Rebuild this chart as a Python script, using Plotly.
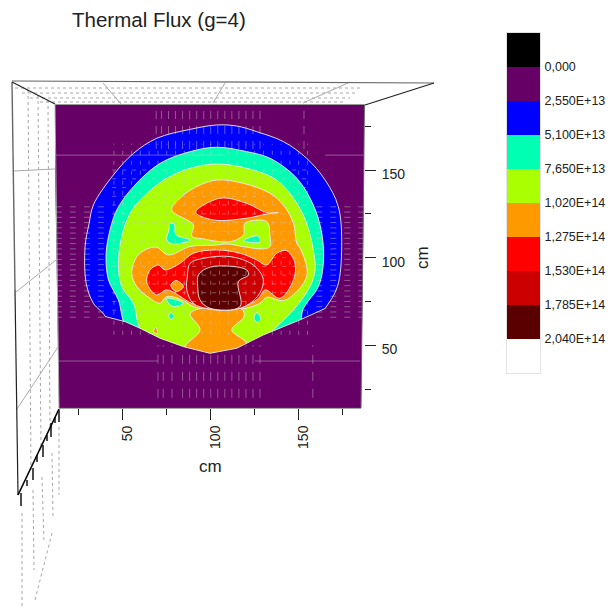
import plotly.graph_objects as go

W, H = 611, 608

title_text = "Thermal Flux (g=4)"
axis_unit = "cm"
level_labels = ["0,000", "2,550E+13", "5,100E+13", "7,650E+13", "1,020E+14",
                "1,275E+14", "1,530E+14", "1,785E+14", "2,040E+14"]
level_values = [0, 2.55, 5.1, 7.65, 10.2, 12.75, 15.3, 17.85, 20.4]  # in 1E+13
band_colors = ["#000000", "#660066", "#0000FF", "#00FFB2", "#AAFF00",
               "#FF9900", "#FF0000", "#CC0000", "#5A0000", "#FFFFFF"]
band_centers = [-1.275, 1.275, 3.825, 6.375, 8.925, 11.475, 14.025, 16.575, 19.125, 21.675]

# iso-flux outlines, in cm
iso_2550_x = [103.4, 114.8, 126.1, 141.3, 154.5, 165.0, 172.5, 174.4, 172.0, 165.0, 152.7, 99.6, 40.0, 40.0, 33.3, 29.2, 28.6, 30.9, 33.3, 44.7, 56.1, 69.3, 88.3]
iso_2550_y = [175.7, 175.1, 171.9, 166.2, 156.7, 144.3, 129.1, 106.3, 83.5, 71.0, 55.0, 37.8, 58.7, 66.4, 74.0, 85.4, 106.3, 119.6, 130.0, 147.2, 159.5, 168.1, 173.2]
iso_5100_x = [103.4, 120.4, 133.7, 148.9, 158.3, 163.1, 164.0, 161.2, 152.7, 148.9, 99.6, 53.2, 47.5, 41.9, 40.5, 41.9, 46.6, 56.1, 71.2, 88.3]
iso_5100_y = [163.0, 160.5, 156.7, 145.3, 130.0, 113.9, 96.8, 83.5, 71.1, 58.7, 37.8, 58.7, 75.9, 87.3, 100.6, 112.0, 127.2, 140.5, 153.8, 160.5]
iso_7650_x = [103.4, 120.4, 137.5, 148.9, 154.5, 158.3, 159.3, 156.4, 147.0, 134.7, 122.4, 84.5, 60.8, 56.1, 49.4, 47.5, 49.4, 54.2, 61.7, 75.0, 88.3]
iso_7650_y = [153.4, 151.0, 144.3, 131.0, 119.6, 104.4, 93.0, 83.5, 70.2, 57.8, 43.5, 43.5, 57.8, 74.0, 83.5, 96.8, 112.0, 125.3, 134.8, 145.3, 151.0]
iso_10200_x = [77.8, 83.5, 92.0, 103.4, 118.6, 133.7, 141.3, 147.0, 148.9, 151.1, 154.5, 154.5, 149.8, 141.3, 131.8, 128.0, 116.7, 99.6, 90.1, 84.5, 75.0, 71.2, 65.5, 58.0, 55.1, 58.0, 63.6, 69.3, 75.9, 88.3, 103.4, 109.1, 118.6, 129.0, 133.7, 133.7, 131.8, 119.5, 118.6, 111.0, 95.8, 89.2, 90.1]
iso_10200_y = [127.2, 134.8, 140.5, 144.3, 142.4, 136.7, 130.0, 119.6, 108.2, 104.8, 94.9, 89.2, 81.6, 75.5, 77.4, 74.0, 70.5, 70.2, 72.1, 75.5, 77.8, 74.0, 76.8, 83.5, 91.1, 100.6, 104.8, 105.9, 101.5, 106.3, 107.2, 107.8, 106.3, 105.0, 106.3, 112.0, 120.6, 119.6, 113.0, 109.1, 110.7, 112.4, 118.7]
iso_10200b_x = [88.3, 93.0, 117.6, 118.9, 111.9, 120.4, 122.4, 84.5, 85.4, 93.9]
iso_10200b_y = [67.9, 70.7, 70.7, 66.3, 58.8, 51.2, 39.7, 39.7, 49.2, 58.8]
iso_12750_x = [91.5, 105.3, 120.4, 131.8, 138.4, 131.8, 120.4, 101.5]
iso_12750_y = [125.9, 133.9, 131.0, 125.7, 125.7, 124.9, 122.5, 121.5]
iso_12750b_x = [63.6, 65.5, 70.3, 74.0, 82.6, 90.1, 103.4, 116.7, 126.1, 131.8, 137.5, 143.2, 147.9, 147.0, 139.4, 130.9, 127.1, 116.7, 99.6, 89.2, 75.0, 69.3, 64.6]
iso_12750b_y = [87.3, 93.0, 95.8, 93.0, 96.8, 102.5, 104.4, 102.5, 98.7, 95.8, 102.5, 104.0, 96.8, 87.3, 76.8, 81.6, 76.8, 71.1, 70.5, 73.9, 81.6, 78.7, 83.5]
iso_15300_x = [86.7, 88.3, 95.8, 111.0, 124.2, 129.9, 126.5, 116.7, 99.6, 90.1, 86.4]
iso_15300_y = [89.2, 96.8, 99.6, 100.6, 95.8, 87.3, 77.8, 71.1, 70.7, 73.9, 81.6]
iso_17850_x = [92.6, 93.0, 97.7, 107.2, 120.4, 121.4, 115.7, 116.7, 99.6, 93.9]
iso_17850_y = [83.5, 90.1, 93.9, 95.3, 93.0, 90.1, 86.3, 72.1, 71.1, 75.9]

# small low pockets inside the 7,650E+13 band
pocket_a_x = [76.9, 79.2, 80.3, 88.3, 78.8, 75.0, 76.3]
pocket_a_y = [119.6, 119.2, 113.0, 110.1, 107.8, 110.1, 115.8]
pocket_b_x = [118.6, 127.1, 127.6]
pocket_b_y = [109.7, 112.4, 108.8]
pocket_c_x = [75.0, 84.5, 79.2, 76.0]
pocket_c_y = [76.8, 74.0, 72.0, 74.0]
pocket_d_x = [77.3, 79.2, 77.3, 76.1]
pocket_d_y = [68.6, 66.3, 64.8, 66.7]
pocket_e_x = [123.3, 128.4, 125.2]
pocket_e_y = [74.0, 76.3, 73.6]
pocket_f_x = [126.1, 128.4, 126.5, 124.6]
pocket_f_y = [68.6, 65.4, 63.1, 65.4]
notch_x = [77.3, 80.3, 84.5, 80.3]
notch_y = [84.4, 86.9, 83.5, 80.6]
speck_x = [67.4, 68.9, 69.7]
speck_y = [57.8, 60.3, 56.5]

# lower edge of the mesh, in cm
edge_x = [40.0, 51.3, 59.8, 71.2, 84.5, 99.6, 114.8, 129.9, 141.3, 150.8, 165.0]
edge_y = [66.4, 63.5, 59.7, 54.0, 49.2, 45.4, 48.3, 55.9, 60.6, 64.5, 71.0]

# projected mesh traces seen through the surface, in cm
side_hatch_y = [66, 69, 72, 75, 78, 81, 84, 87, 90, 93, 96, 99, 102, 105, 108, 111, 114, 117, 120, 123, 126, 129]
top_hatch_x = [69, 72, 76, 80, 84, 88, 92, 96, 100, 104, 108, 112, 116, 120, 124, 128, 153]
bottom_hatch_x = [70, 73, 78, 84, 88, 92, 96, 100, 104, 108, 112, 116, 120, 124, 128, 158]
inner_mesh_x = [45, 50, 55, 60, 65, 70, 75, 80, 85, 90, 95, 100, 105, 110, 115, 120, 125, 130, 135, 140, 145, 150, 155]
inner_mesh_y = [70, 75, 80, 85, 90, 95, 100, 105, 110, 115, 120, 125, 130, 135, 140, 145, 150]
long_lines_y = [[158.5, 12, 108], [158.5, 165, 187], [41, 13, 70], [41, 125, 185]]

x_range = [11.5, 187.1]
y_range = [14.2, 187.1]
PURPLE = band_colors[1]
LIGHT = "rgba(240,238,240,0.9)"
MESH = "rgba(205,195,205,0.45)"


def segs_v(xs, y0, y1):
    X, Y = [], []
    for x in xs:
        X += [x, x, None]
        Y += [y0, y1, None]
    return X, Y


def segs_h(ys, x0, x1):
    X, Y = [], []
    for y in ys:
        X += [x0, x1, None]
        Y += [y, y, None]
    return X, Y


colorscale = []
for i, c in enumerate(band_colors):
    colorscale += [[i / 10, c], [(i + 1) / 10, c]]

fig = go.Figure()
regions = [
    (iso_2550_x, iso_2550_y, band_colors[2]),
    (iso_5100_x, iso_5100_y, band_colors[3]),
    (iso_7650_x, iso_7650_y, band_colors[4]),
    (pocket_a_x, pocket_a_y, band_colors[3]),
    (pocket_b_x, pocket_b_y, band_colors[3]),
    (pocket_c_x, pocket_c_y, band_colors[3]),
    (pocket_d_x, pocket_d_y, band_colors[3]),
    (pocket_e_x, pocket_e_y, band_colors[3]),
    (pocket_f_x, pocket_f_y, band_colors[3]),
    (iso_10200_x, iso_10200_y, band_colors[5]),
    (iso_10200b_x, iso_10200b_y, band_colors[5]),
    (speck_x, speck_y, band_colors[5]),
    (iso_12750_x, iso_12750_y, band_colors[6]),
    (iso_12750b_x, iso_12750b_y, band_colors[6]),
    (notch_x, notch_y, band_colors[5]),
    (iso_15300_x, iso_15300_y, band_colors[7]),
    (iso_17850_x, iso_17850_y, band_colors[8]),
]
for rx, ry, col in regions:
    fig.add_trace(go.Scatter(
        x=rx + rx[:1], y=ry + ry[:1], mode="lines", fill="toself", fillcolor=col,
        line=dict(color=LIGHT, width=1, shape="spline", smoothing=1.0),
        hoverinfo="skip", showlegend=False))

# mesh cut below the lower edge
fig.add_trace(go.Scatter(
    x=[edge_x[0]] + edge_x + [edge_x[-1], 190, 190, 5, 5], y=[edge_y[0]] + edge_y + [10, 10, 10, 10, edge_y[0]],
    fill="toself", fillcolor=PURPLE, mode="none", hoverinfo="skip", showlegend=False))
fig.add_trace(go.Scatter(x=edge_x, y=edge_y, mode="lines", line=dict(color=LIGHT, width=1),
                         hoverinfo="skip", showlegend=False))

for X, Y, dash, color in [
    (*segs_v(inner_mesh_x, 56, 165), "4px,6px", MESH),
    (*segs_h(inner_mesh_y, 44, 155), "4px,6px", MESH),
    (*segs_v(top_hatch_x, 162, 187), "8px,7px", MESH),
    (*segs_v(bottom_hatch_x, 20, 50), "9px,8px", MESH),
    (*segs_h(side_hatch_y, 12, 42), "6px,8px", MESH),
    (*segs_h(side_hatch_y, 160, 187), "6px,8px", MESH),
]:
    fig.add_trace(go.Scatter(x=X, y=Y, mode="lines", line=dict(color=color, width=1, dash=dash),
                             hoverinfo="skip", showlegend=False))
LX, LY = [], []
for y, x0, x1 in long_lines_y:
    LX += [x0, x1, None]
    LY += [y, y, None]
fig.add_trace(go.Scatter(x=LX, y=LY, mode="lines", line=dict(color=MESH, width=1),
                         hoverinfo="skip", showlegend=False))

# level key
fig.add_trace(go.Heatmap(
    x=[0], y=band_centers, z=[[c] for c in band_centers], zmin=-2.55, zmax=22.95,
    colorscale=colorscale, showscale=False, xaxis="x2", yaxis="y2", hoverinfo="skip"))


def P(px, py):
    return px / W, 1 - py / H


def line(p0, p1, color, width=1, dash=None):
    x0, y0 = P(*p0)
    x1, y1 = P(*p1)
    return dict(type="line", xref="paper", yref="paper", x0=x0, y0=y0, x1=x1, y1=y1,
                line=dict(color=color, width=width, dash=dash), layer="above")


def tri(a, b, c):
    pa, pb, pc = P(*a), P(*b), P(*c)
    return dict(type="path", xref="paper", yref="paper", fillcolor="white", line=dict(width=0), layer="above",
                path=f"M{pa[0]},{pa[1]} L{pb[0]},{pb[1]} L{pc[0]},{pc[1]} Z")


shapes = [tri((54, 105), (59, 409), (54, 409)), tri((365, 105), (365, 409), (361, 409))]
DOT = "#a8a8a8"
for a, b in [((15, 88), (360, 88)), ((22, 93), (355, 93)), ((30, 98), (350, 98)), ((40, 102), (345, 102)),
             ((28, 90), (31, 470)), ((38, 95), (41, 450)), ((48, 100), (50, 430)),
             ((22, 513), (22, 607)), ((33, 490), (34, 570)), ((42, 477), (44, 543)),
             ((52, 453), (53, 517)), ((59, 427), (59, 495)), ((52, 533), (35, 600))]:
    shapes.append(line(a, b, DOT, 1, "dot"))
for a, b in [((13, 171), (55, 169)), ((16, 292), (56, 260)), ((17, 409), (58, 347)),
             ((103, 83), (121, 104)), ((225, 83), (213, 103)), ((348, 83), (303, 103)),
             ((55, 105), (59, 408))]:
    shapes.append(line(a, b, "#aaaaaa", 1))
shapes += [
    line((12, 81), (434, 83), "#666666", 1.2),
    line((12, 82), (15, 290), "#666666", 1.4),
    line((15, 290), (18, 495), "#222222", 1.2),
    line((12, 82), (55, 104), "#222222", 1.2),
    line((365, 105), (434, 83), "#222222", 1.2),
    line((55, 104.5), (365, 104.5), "#999999", 1),
    line((59, 409), (18, 495), "#000000", 1.6),
    line((59, 408), (361, 408), "#444444", 1),
    line((364.5, 105), (361, 408), "#666666", 1),
]
for a, b in [((21, 493), (21, 506)), ((33, 468), (33, 480)), ((43, 445), (43, 457)), ((51, 423), (51, 437)),
             ((59, 410), (59, 422)), ((27, 480), (27, 486)), ((37, 455), (37, 462)), ((47, 435), (47, 441)),
             ((55, 417), (55, 423))]:
    shapes.append(line(a, b, "#000000", 1.4))

TXT = "#222222"
FONT = "Liberation Sans"
axis_common = dict(showgrid=False, zeroline=False, showline=False, tickcolor="#222222", tickwidth=1.2,
                   ticks="outside", ticklen=11, tickfont=dict(family=FONT, size=14, color=TXT))
minor = dict(ticks="outside", ticklen=6, tickcolor="#222222", tickwidth=1.2, showgrid=False)

fig.update_layout(
    width=W, height=H, margin=dict(l=0, r=0, t=0, b=0), autosize=False,
    paper_bgcolor="white", plot_bgcolor=PURPLE, showlegend=False,
    font=dict(family=FONT, color=TXT),
    xaxis=dict(domain=[55 / W, 364 / W], range=x_range, tickvals=[50, 100, 150], ticktext=["50", "100", "150"],
               tickangle=-90, anchor="y", ticklabelshift=5, minor=dict(tickvals=[25, 75, 125, 175], **minor), **axis_common),
    yaxis=dict(domain=[1 - 408 / H, 1 - 105 / H], range=y_range, tickvals=[50, 100, 150],
               ticktext=["50", "100", "150"], side="right", anchor="x", ticklabelstandoff=3, ticklabelshift=4,
               minor=dict(tickvals=[25, 75, 125, 175], **minor), **axis_common),
    xaxis2=dict(domain=[507 / W, 540 / W], range=[-0.5, 0.5], showticklabels=False, ticks="", showgrid=False,
                zeroline=False, anchor="y2", showline=True, mirror=True, linecolor="#e2e2e2", linewidth=1),
    yaxis2=dict(domain=[1 - 373 / H, 1 - 33 / H], range=[22.95, -2.55], tickvals=level_values, ticktext=level_labels,
                side="right", anchor="x2", ticks="", showgrid=False, zeroline=False, showline=True, mirror=True,
                linecolor="#e2e2e2", linewidth=1, ticklabelstandoff=1,
                tickfont=dict(family=FONT, size=12.5, color=TXT)),
    shapes=shapes,
    annotations=[
        dict(text=title_text, xref="paper", yref="paper", x=70 / W, y=1 - 19 / H, xanchor="left", yanchor="middle",
             showarrow=False, font=dict(family=FONT, size=20.5, color=TXT)),
        dict(text=axis_unit, xref="paper", yref="paper", x=210 / W, y=1 - 466 / H, xanchor="center", yanchor="middle",
             showarrow=False, font=dict(family=FONT, size=17, color=TXT)),
        dict(text=axis_unit, xref="paper", yref="paper", x=422 / W, y=1 - 258 / H, xanchor="center", yanchor="middle",
             showarrow=False, textangle=-90, font=dict(family=FONT, size=17, color=TXT)),
    ],
)
fig.write_html("out.html", config={"displayModeBar": False},
               post_script="document.body.style.margin='0';document.body.style.overflow='hidden';")
